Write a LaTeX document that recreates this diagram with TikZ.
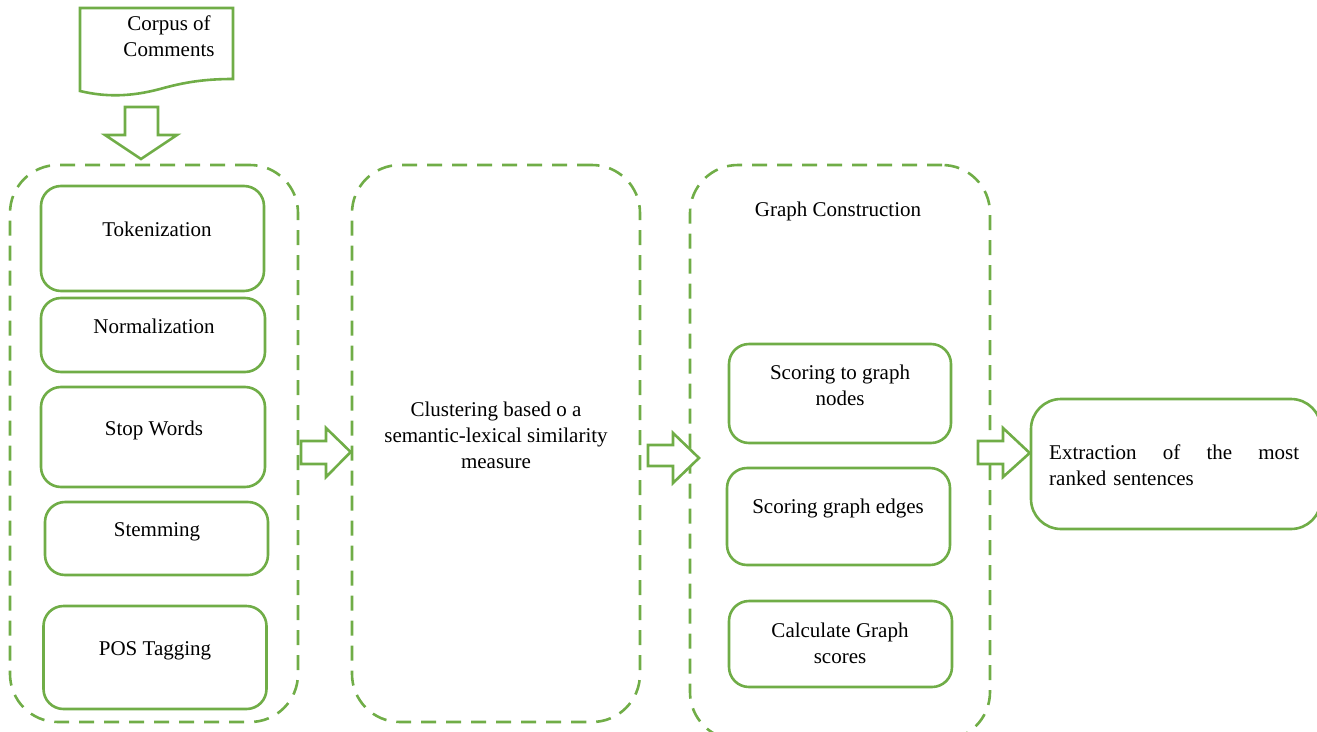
\documentclass[tikz,border=0pt]{standalone}
\usepackage{fontspec}
\setmainfont{Liberation Serif}
\definecolor{grn}{HTML}{70AD47}
\tikzset{
  inbox/.style={draw=grn, line width=2.6pt, rounded corners=20pt, inner sep=0pt, fill=white},
  dbox/.style={draw=grn, line width=2.6pt, rounded corners=48pt, inner sep=0pt, dash pattern=on 15pt off 10pt},
  blockarrow/.style={draw=grn, line width=2.6pt, fill=white, line join=miter},
  txt/.style={inner sep=0pt, anchor=base, font=\fontsize{21}{26}\selectfont, align=center}
}
\begin{document}
\begin{tikzpicture}[x=1pt,y=-1pt]
\useasboundingbox (0,0) rectangle (1317,731);
\begin{scope}
\clip (0,0) rectangle (1317,731);
% document shape
\draw[blockarrow] (80,8) -- (233,8) -- (233,79)
  .. controls (205,79) and (185,82) .. (160,89)
  .. controls (130,97) and (105,97) .. (80,91) -- cycle;
\node[txt] (corpus) at (169,56) {Corpus of\\Comments};
% down arrow
\coordinate (dtip) at (141,159);
\draw[blockarrow] (125,107) -- (158,107) -- (158,135) -- (177,135) -- (dtip) -- (105,135) -- (125,135) -- cycle;
% dashed containers
\node[dbox, minimum width=288pt, minimum height=557pt] (pre) at (154,443.5) {};
\node[dbox, minimum width=288pt, minimum height=557pt] (clu) at (496,443.5) {};
\node[dbox, minimum width=300pt, minimum height=575pt] (gra) at (840,452.5) {};
% preprocessing boxes
\node[inbox, minimum width=223pt, minimum height=105pt] (tok) at (152.5,238.5) {};
\node[txt] (tokT) at (157,236) {Tokenization};
\node[inbox, minimum width=224pt, minimum height=74pt] (nor) at (153,335) {};
\node[txt] (norT) at (154,333) {Normalization};
\node[inbox, minimum width=224pt, minimum height=100pt] (stp) at (153,437) {};
\node[txt] (stpT) at (154,435) {Stop Words};
\node[inbox, minimum width=223pt, minimum height=73pt] (stm) at (156.5,538.5) {};
\node[txt] (stmT) at (157,536) {Stemming};
\node[inbox, minimum width=223pt, minimum height=103pt] (pos) at (155,657.5) {};
\node[txt] (posT) at (155,655) {POS Tagging};
% clustering text
\node[txt] (cluT) at (496,468) {Clustering based o a\\semantic-lexical similarity\\measure};
% graph construction
\node[txt] (graT) at (838,216) {Graph Construction};
\node[inbox, minimum width=222pt, minimum height=99pt] (sn) at (840,393.5) {};
\node[txt] (snT) at (840,405) {Scoring to graph\\nodes};
\node[inbox, minimum width=223pt, minimum height=97pt] (se) at (838.5,516.5) {};
\node[txt] (seT) at (838,513) {Scoring graph edges};
\node[inbox, minimum width=223pt, minimum height=86pt] (cg) at (840.5,644) {};
\node[txt] (cgT) at (840,663) {Calculate Graph\\scores};
% extraction
\node[inbox, rounded corners=30pt, minimum width=290pt, minimum height=130pt] (ext) at (1176,464) {};
\node[txt, anchor=base west, align=left, text width=250pt] (extT) at (1049,459) {Extraction\hfill of\hfill the\hfill most\\ranked sentences};
% right block arrows
\coordinate (a2tip) at (699,458);
\draw[blockarrow] (301,441) -- (326,441) -- (326,428) -- (clu.west |- 0,452) -- (326,477) -- (326,464) -- (301,464) -- cycle;
\draw[blockarrow] (648,445) -- (673,445) -- (673,433) -- (a2tip) -- (673,483) -- (673,466) -- (648,466) -- cycle;
\draw[blockarrow] (978,441) -- (1003,441) -- (1003,428) -- (ext.west |- 0,453) -- (1003,477) -- (1003,464) -- (978,464) -- cycle;
\end{scope}
\end{tikzpicture}
\end{document}
